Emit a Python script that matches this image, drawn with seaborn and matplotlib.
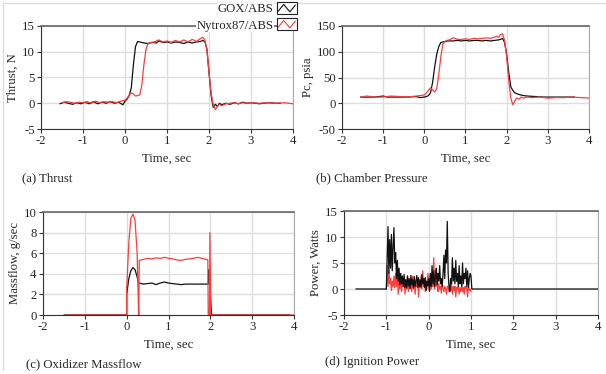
import pandas as pd
import matplotlib.pyplot as plt
import seaborn as sns
from matplotlib.legend_handler import HandlerBase
from matplotlib.lines import Line2D
from matplotlib.patches import Rectangle

# ---- data ----
# (a) thrust, N
thrust_gox_t = [-1.55, -1.45, -1.35, -1.25, -1.15, -1.05, -0.95, -0.85, -0.75, -0.65, -0.55, -0.45, -0.35, -0.25, -0.15, -0.05,
                0.0, 0.05, 0.1, 0.15, 0.2, 0.25, 0.3, 0.35, 0.45, 0.55, 0.65, 0.75,
                0.8, 0.9, 1.0, 1.1, 1.2, 1.3, 1.4, 1.5, 1.6, 1.7, 1.8,
                1.85, 1.9, 1.95, 2.0, 2.05, 2.1, 2.15, 2.2, 2.25, 2.3,
                2.4, 2.5, 2.6, 2.7, 2.8, 2.9, 3.0, 3.2, 3.4, 3.6, 3.7]
thrust_gox = [-0.1, 0.2, 0.0, -0.2, 0.1, -0.1, 0.2, -0.1, 0.3, -0.1, 0.2, 0.0, 0.3, 0.0, 0.2, -0.3,
              0.4, 0.8, 1.5, 3.0, 7.5, 11.0, 12.0, 11.9, 11.7, 11.6, 11.8, 11.7,
              12.1, 11.8, 11.9, 11.7, 11.9, 11.8, 11.6, 11.9, 11.7, 11.9, 12.0,
              12.2, 12.0, 10.5, 6.0, 1.5, -0.8, -0.2, -0.6, 0.0, -0.3,
              0.0, -0.2, 0.1, -0.1, 0.2, 0.0, 0.1, -0.1, 0.1, 0.0, 0.0]
thrust_nyt_t = [-1.5, -1.4, -1.3, -1.2, -1.1, -1.0, -0.9, -0.8, -0.7, -0.6, -0.5, -0.4, -0.3, -0.2, -0.1, 0.0,
                0.05, 0.1, 0.15, 0.2, 0.25, 0.3, 0.35, 0.4, 0.45, 0.5, 0.55, 0.6,
                0.7, 0.8, 0.9, 1.0, 1.1, 1.2, 1.3, 1.4, 1.5, 1.6, 1.7,
                1.75, 1.8, 1.85, 1.9, 1.95, 2.0, 2.05, 2.1, 2.15, 2.2, 2.25, 2.3, 2.35, 2.4,
                2.5, 2.6, 2.7, 2.8, 2.9, 3.0, 3.2, 3.4, 3.6, 3.8, 4.0]
thrust_nyt = [0.1, 0.3, 0.2, 0.0, 0.2, 0.1, 0.3, 0.0, 0.4, 0.1, 0.3, 0.2, 0.3, 0.1, 0.4, 0.6,
              1.0, 1.6, 2.0, 1.8, 1.4, 1.5, 1.6, 3.5, 7.5, 10.5, 11.6, 11.8,
              11.9, 12.3, 11.9, 12.1, 11.8, 12.2, 11.9, 12.3, 11.9, 12.4, 12.0,
              12.3, 12.6, 12.8, 12.3, 10.5, 6.0, 2.0, -0.3, -1.2, -0.6, -0.2, -0.5, -0.3, -0.1,
              0.0, 0.1, -0.1, 0.1, 0.0, 0.1, 0.0, 0.1, 0.0, 0.1, -0.1]

# (b) chamber pressure, psia
pc_gox_t = [-1.55, -1.4, -1.2, -1.0, -0.9, -0.8, -0.6, -0.4, -0.2, -0.1,
            0.0, 0.05, 0.1, 0.15, 0.2, 0.25, 0.3, 0.35, 0.4, 0.45, 0.5,
            0.6, 0.7, 0.8, 0.9, 1.0, 1.1, 1.2, 1.3, 1.4, 1.5, 1.6, 1.7, 1.8,
            1.85, 1.9, 1.95, 2.0, 2.05, 2.1, 2.15, 2.2,
            2.3, 2.4, 2.5, 2.7, 2.9, 3.1, 3.3, 3.5, 3.65]
pc_gox = [12, 12, 12, 14, 12, 12, 12, 12, 13, 11,
          12, 13, 15, 20, 40, 70, 95, 110, 118, 119, 120,
          121, 121, 122, 121, 122, 121, 122, 122, 121, 122, 121, 122, 123,
          124, 126, 118, 95, 60, 32, 25, 20,
          17, 15, 14, 13, 12, 12, 12, 12, 12]
pc_nyt_t = [-1.55, -1.4, -1.3, -1.2, -1.0, -0.8, -0.6, -0.4, -0.2,
            0.0, 0.05, 0.1, 0.15, 0.2, 0.25, 0.3, 0.35, 0.4, 0.45, 0.5, 0.55, 0.6,
            0.7, 0.75, 0.8,
            0.9, 1.0, 1.1, 1.2, 1.3, 1.4, 1.5, 1.6, 1.7,
            1.75, 1.8, 1.85, 1.9, 1.95, 2.0, 2.05, 2.1, 2.15, 2.2, 2.25, 2.3, 2.35, 2.4,
            2.5, 2.6, 2.8, 3.0, 3.2, 3.4, 3.6, 3.8, 4.0]
pc_nyt = [12, 14, 13, 12, 12, 14, 13, 12, 14,
          16, 20, 25, 30, 26, 22, 28, 55, 90, 115, 120, 122, 123,
          127, 126, 124,
          124, 125, 124, 126, 125, 126, 127, 126, 128,
          130, 128, 133, 135, 122, 90, 45, 10, -3, 5, 10, 8, 12, 10,
          12, 11, 12, 10, 11, 11, 12, 11, 10]

# (c) oxidizer massflow, g/sec
mdot_gox_t = [-1.5, 0.0, 0.0, 0.05, 0.1, 0.15, 0.2, 0.25, 0.28, 0.3,
              0.4, 0.5, 0.6, 0.7, 0.8, 0.9, 1.0, 1.1, 1.2, 1.3, 1.4, 1.5, 1.6, 1.7, 1.8, 1.9,
              1.95, 1.96, 2.0, 2.03, 2.05, 3.9]
mdot_gox = [0, 0, 2.0, 3.5, 4.3, 4.6, 4.4, 3.7, 3.1, 3.1,
            3.0, 3.05, 3.1, 2.95, 3.1, 3.2, 3.1, 3.05, 3.0, 2.95, 3.0, 3.0, 3.0, 3.0, 3.0, 3.0,
            3.0, 4.4, 2.0, 0.0, 0.0, 0.0]
mdot_nyt_t = [-1.4, 0.0, 0.0, 0.05, 0.1, 0.15, 0.2, 0.25, 0.28, 0.29, 0.3,
              0.4, 0.5, 0.6, 0.7, 0.8, 0.9, 1.0, 1.1, 1.2, 1.3, 1.4, 1.5, 1.6, 1.7, 1.8, 1.9,
              1.94, 1.95, 1.98, 1.99, 2.01, 2.02, 4.0]
mdot_nyt = [0, 0, 2.5, 7.0, 9.4, 9.8, 9.2, 6.0, 1.0, 0.0, 5.3,
            5.4, 5.5, 5.45, 5.55, 5.5, 5.6, 5.5, 5.45, 5.35, 5.3, 5.4, 5.45, 5.5, 5.6, 5.5, 5.4,
            5.35, 0.0, 0.0, 8.0, 0.0, 0.0, 0.0]

# (d) ignition power, Watts
pw_t = [-1.00, -0.98, -0.96, -0.94, -0.92, -0.90, -0.88, -0.86, -0.84, -0.82,
        -0.80, -0.78, -0.76, -0.74, -0.72, -0.70, -0.68, -0.66, -0.64, -0.62,
        -0.60, -0.58, -0.56, -0.54, -0.52, -0.50, -0.48, -0.46, -0.44, -0.42,
        -0.40, -0.38, -0.36, -0.34, -0.32, -0.30, -0.28, -0.26, -0.24, -0.22,
        -0.20, -0.18, -0.16, -0.14, -0.12, -0.10, -0.08, -0.06, -0.04, -0.02,
        0.00, 0.02, 0.04, 0.06, 0.08, 0.10, 0.12, 0.14, 0.16, 0.18,
        0.20, 0.22, 0.24, 0.26, 0.28, 0.30, 0.32, 0.34, 0.36, 0.38,
        0.40, 0.42, 0.44, 0.46, 0.48, 0.50, 0.52, 0.54, 0.56, 0.58,
        0.60, 0.62, 0.64, 0.66, 0.68, 0.70, 0.72, 0.74, 0.76, 0.78,
        0.80, 0.82, 0.84, 0.86, 0.88, 0.90, 0.92, 0.94, 0.96, 0.98,
        1.00]
pw_gox = [0.0, 6.0, 12.0, 3.0, 9.5, 4.0, 10.5, 3.5, 8.0, 11.8,
          5.0, 7.0, 2.0, 5.5, 1.5, 4.0, 0.8, 3.0, 1.0, 2.5,
          0.5, 2.8, 0.3, 1.8, 0.2, 2.5, 0.6, 2.0, 0.1, 2.6,
          0.8, 1.9, 0.2, 2.4, 0.5, 1.5, 2.6, 0.3, 2.2, 0.4,
          1.8, 0.2, 2.8, 1.0, 2.0, 0.3, 2.2, -0.3, 1.5, 0.6,
          2.0, -0.4, 3.0, 0.5, 4.5, 1.0, 3.5, 0.5, 2.5, 4.0,
          0.8, 3.0, 1.5, 4.5, 1.0, 2.0, 0.5, 3.0, 6.5, 2.0,
          7.5, 5.0, 13.0, 3.0, 0.5, -0.5, 2.0, 1.0, 6.0, 1.5,
          4.0, 1.0, 5.5, 1.5, 3.0, 0.5, 4.5, 1.0, 2.5, 0.5,
          5.0, 1.0, 3.0, 2.0, 4.0, 0.5, 3.5, 0.3, 2.0, 3.0,
          2.5]
pw_nyt = [0.0, 4.5, 0.5, 3.5, 1.0, 2.0, -0.3, 1.5, 0.5, 2.5,
          0.2, 3.0, 0.5, 4.0, -1.0, 1.5, 0.0, 2.5, -0.5, 1.0,
          0.5, 2.0, -1.0, 1.0, 0.0, 2.5, -0.5, 1.5, 0.0, 2.0,
          -0.5, 2.5, 0.0, 1.5, -1.0, 1.0, 0.5, 2.0, -1.5, 1.0,
          0.5, 2.5, 0.0, 3.5, 0.5, 2.0, -0.5, 1.5, 0.0, 3.0,
          1.5, -0.5, 3.0, 0.0, 2.0, 0.5, 6.0, 0.0, 2.5, 0.5,
          3.0, -0.5, 1.0, 0.0, 0.5, -0.8, 1.0, 0.3, -0.5, 0.5,
          0.0, -1.0, 0.5, 0.2, -0.5, 0.5, -0.3, 1.0, -1.0, 0.5,
          -0.3, 0.5, -1.5, 0.3, 0.0, 0.5, -1.0, 0.3, -0.5, 0.5,
          -0.5, 0.3, -1.0, 0.5, 0.0, 0.3, -1.5, 0.5, -0.3, 0.0,
          -0.5]
# black trace idles at zero before and after the igniter pulse
pw_gox_t = [-1.72] + pw_t + [1.02, 4.0]
pw_gox = [0.0] + pw_gox + [0.0, 0.0]

BLACK = "#111111"
RED = "#ff3c3c"


class BoxHandler(HandlerBase):
    # little boxed zig-zag like the original legend
    def create_artists(self, legend, orig_handle, xdescent, ydescent, width, height, fontsize, trans):
        x0, y0 = -xdescent, -ydescent
        rect = Rectangle((x0, y0), width, height, facecolor="white", edgecolor="#222222",
                         lw=0.8, transform=trans)
        xs = [0.08, 0.35, 0.65, 0.92]
        ys = [0.25, 0.8, 0.2, 0.75]
        zig = Line2D([x0 + x * width for x in xs], [y0 + y * height for y in ys],
                     color=orig_handle.get_color(), lw=0.8, transform=trans)
        return [rect, zig]


sns.set_style("whitegrid", {"grid.color": "#dedede", "axes.edgecolor": "#222222"})
plt.rcParams["font.family"] = ["Liberation Serif", "DejaVu Serif"]
plt.rcParams["font.size"] = 9.2
plt.rcParams["axes.unicode_minus"] = False

fig = plt.figure(figsize=(6.06, 3.74), dpi=100)
W, H = 606, 374


def px_axes(left, top, right, bottom):
    return fig.add_axes([left / W, 1 - bottom / H, (right - left) / W, (bottom - top) / H])


ax_a = px_axes(41, 26, 293, 129)
ax_b = px_axes(342, 26, 589, 129)
ax_c = px_axes(43, 212, 294, 315)
ax_d = px_axes(344, 211, 598, 315)

panels = [
    (ax_a, [(thrust_gox_t, thrust_gox, BLACK), (thrust_nyt_t, thrust_nyt, RED)], "Thrust, N", (-5, 15), range(-5, 16, 5)),
    (ax_b, [(pc_gox_t, pc_gox, BLACK), (pc_nyt_t, pc_nyt, RED)], "Pc, psia", (-50, 150), range(-50, 151, 50)),
    (ax_c, [(mdot_gox_t, mdot_gox, BLACK), (mdot_nyt_t, mdot_nyt, RED)], "Massflow, g/sec", (0, 10), range(0, 11, 2)),
    (ax_d, [(pw_t, pw_nyt, RED), (pw_gox_t, pw_gox, BLACK)], "Power, Watts", (-5, 15), range(-5, 16, 5)),
]

for ax, series, ylab, ylim, yticks in panels:
    for t, v, col in series:
        df = pd.DataFrame({"t": t, "v": v})
        sns.lineplot(data=df, x="t", y="v", color=col, lw=0.9, estimator=None, sort=False, ax=ax)
    ax.set_xlim(-2, 4)
    ax.set_ylim(ylim)
    ax.set_xticks(range(-2, 5))
    ax.set_yticks(list(yticks))
    ax.set_xlabel("Time, sec", labelpad=4)
    ax.set_ylabel(ylab, labelpad=2)
    ax.tick_params(bottom=True, left=True, direction="out", length=3, width=0.8,
                   color="#333333", pad=1.5, labelsize=9.2)
    ax.grid(True, color="#dedede", lw=1)
    ax.spines["top"].set_color("#666666")
    ax.spines["top"].set_linewidth(1.2)
    ax.spines["right"].set_color("#aaaaaa")
    ax.spines["left"].set_color("#333333")
    ax.spines["bottom"].set_color("#333333")
    for s in ["left", "bottom", "right"]:
        ax.spines[s].set_linewidth(0.8)

# captions
fig.text(22 / W, 1 - 178 / H, "(a) Thrust", va="center")
fig.text(316 / W, 1 - 178 / H, "(b) Chamber Pressure", va="center")
fig.text(26 / W, 1 - 364 / H, "(c) Oxidizer Massflow", va="center")
fig.text(325 / W, 1 - 362 / H, "(d) Ignition Power", va="center")

# legend sitting on the top edge of panel (a)
handles = [Line2D([], [], color=BLACK), Line2D([], [], color=RED)]
leg = fig.legend(handles, ["GOX/ABS", "Nytrox87/ABS"], loc="upper right",
                 bbox_to_anchor=(297 / W, 1 - 2 / H), frameon=False, markerfirst=False,
                 handler_map={Line2D: BoxHandler()}, handlelength=1.6, handleheight=1.1,
                 handletextpad=0.25, labelspacing=0.2, borderpad=0, borderaxespad=0, fontsize=9.2)
for txt in leg.get_texts():
    txt.set_bbox(dict(facecolor="white", edgecolor="none", pad=0.5))

# faint page border at top and left
fig.add_artist(Line2D([3 / W, 1], [1 - 3 / H, 1 - 3 / H], color="#dddddd", lw=1, transform=fig.transFigure))
fig.add_artist(Line2D([3 / W, 3 / W], [1 - 3 / H, 1 - 370 / H], color="#dddddd", lw=1, transform=fig.transFigure))

fig.savefig("out.png", dpi=100)
